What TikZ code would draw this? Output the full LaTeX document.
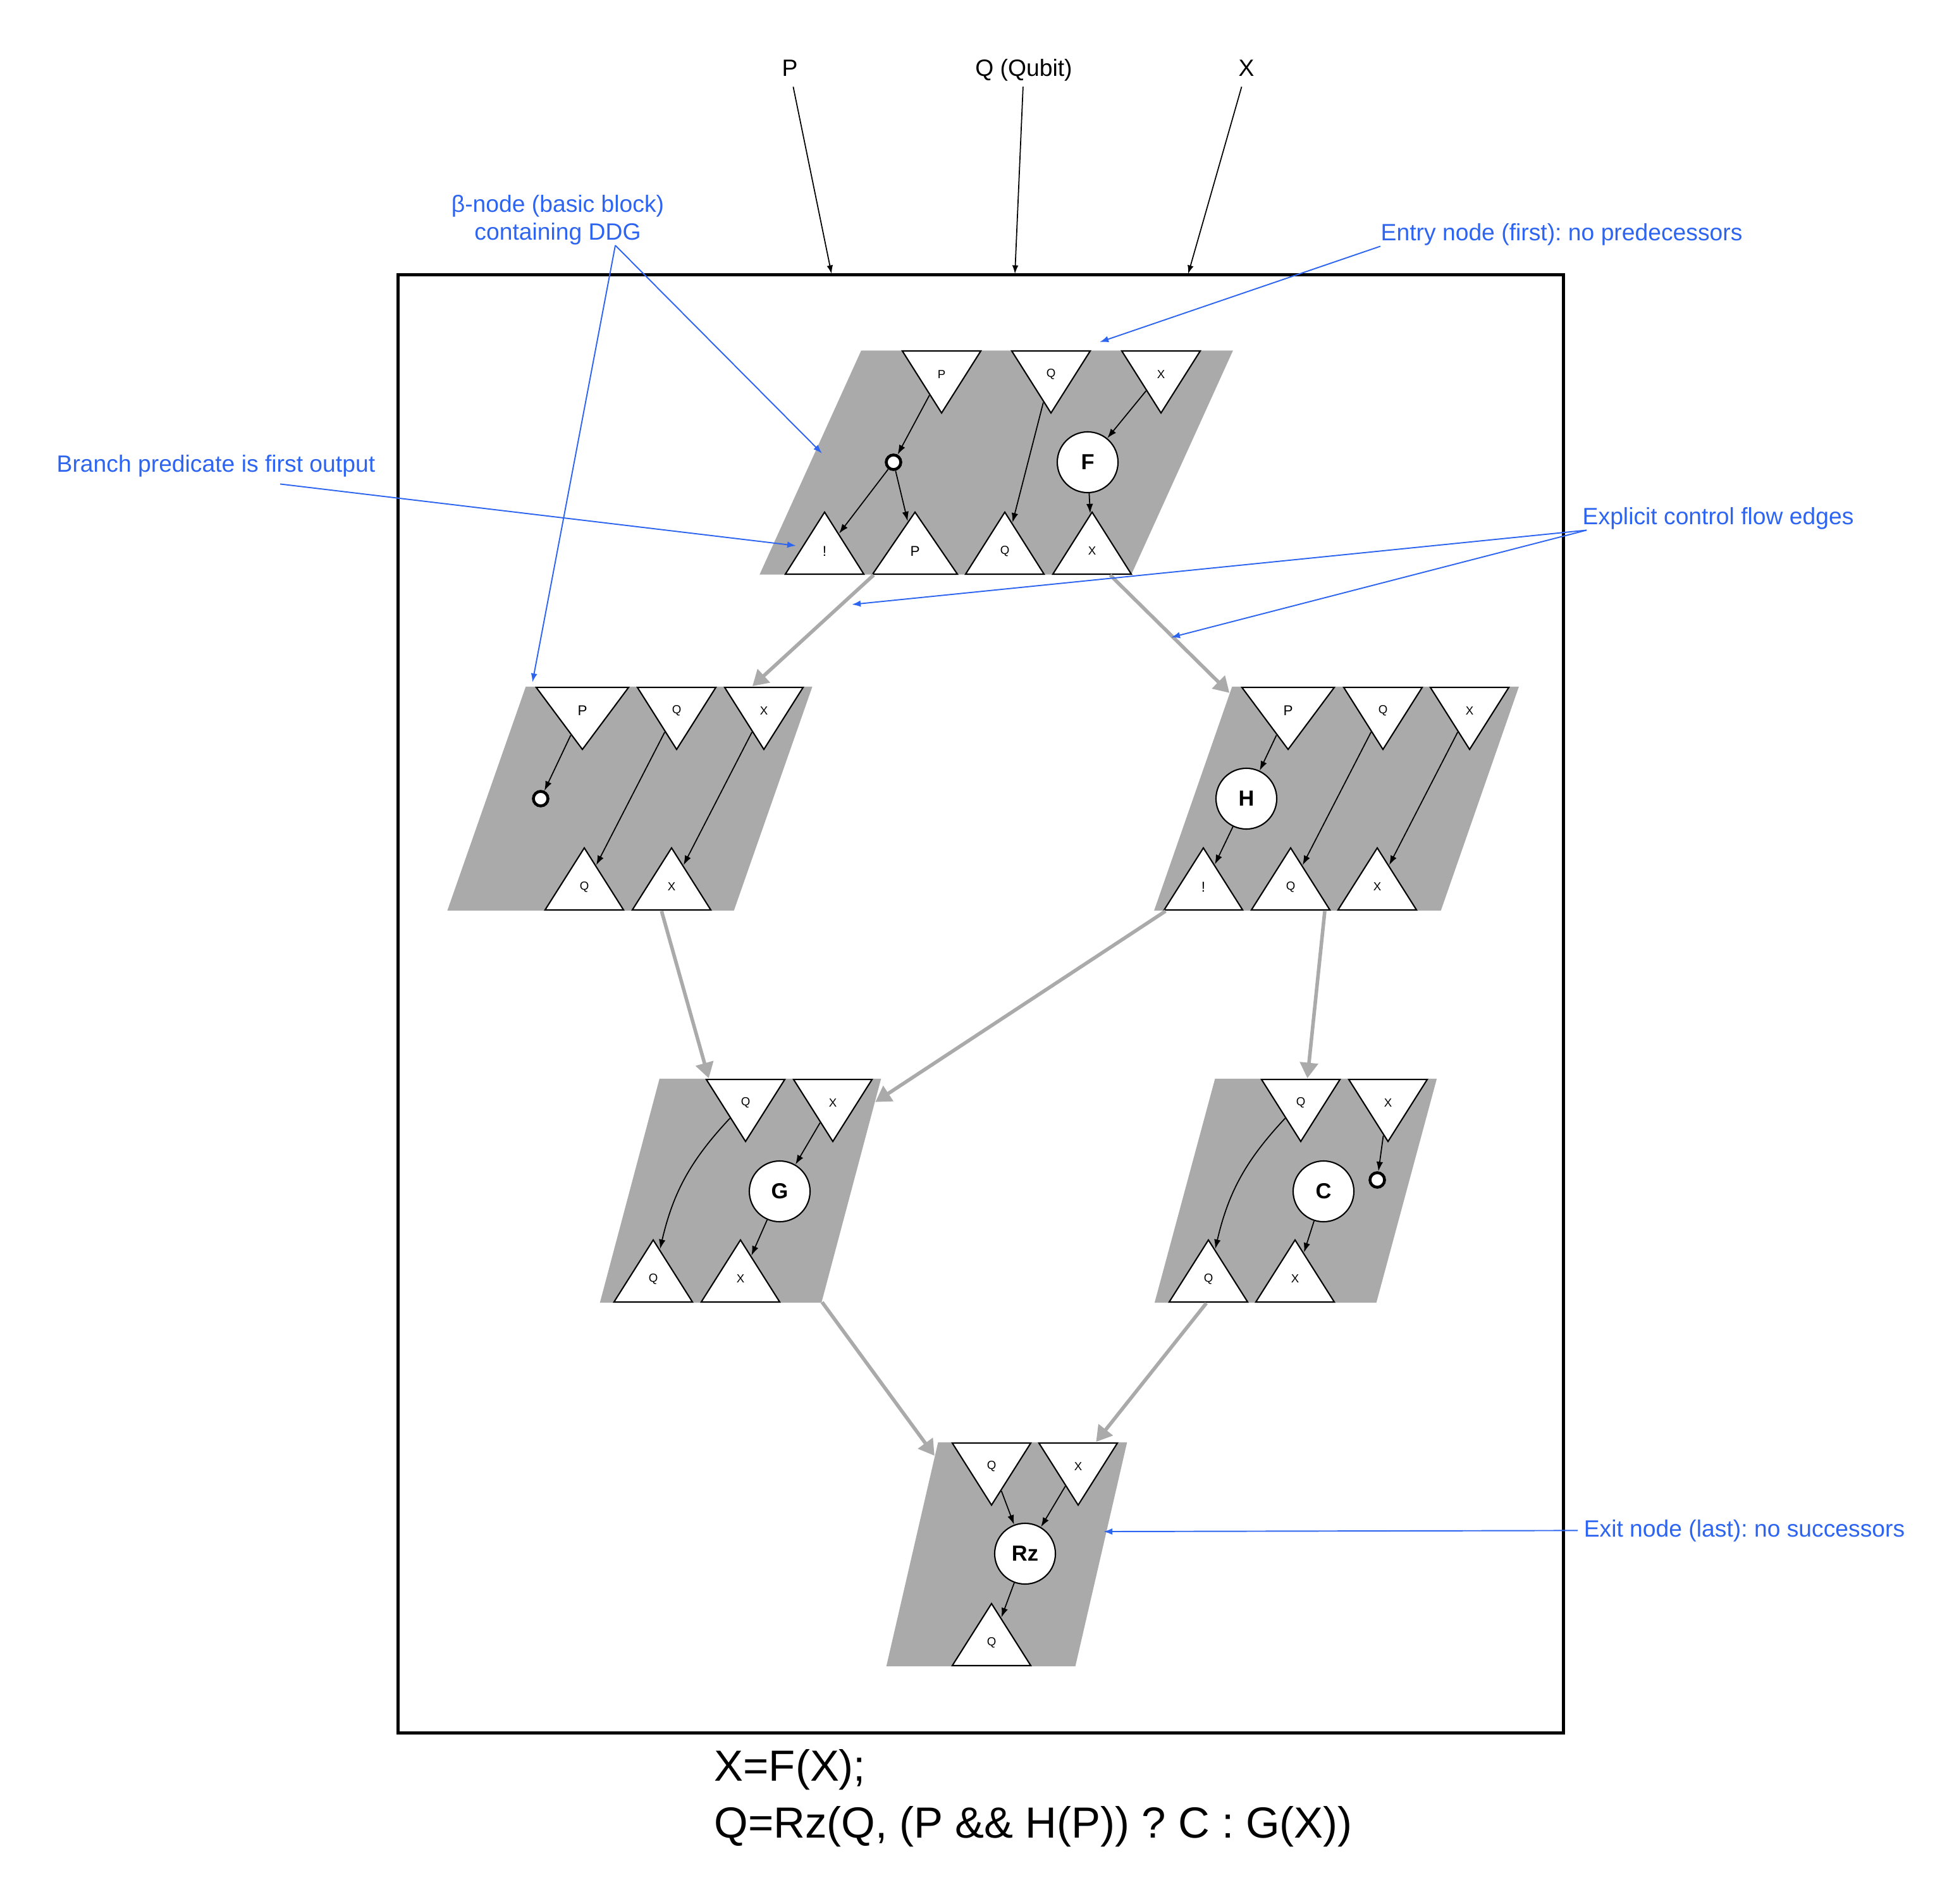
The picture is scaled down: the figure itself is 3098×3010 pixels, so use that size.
\documentclass[tikz,border=0pt]{standalone}
\usepackage{fontspec}
\setmainfont{Liberation Sans}
\frenchspacing
\usetikzlibrary{arrows.meta,calc,shapes.geometric}
\definecolor{blockgray}{HTML}{AAAAAA}
\definecolor{noteblue}{RGB}{46,101,240}
\tikzset{
blockbox/.style={trapezium, fill=blockgray, inner sep=0pt, text height=3.54cm, text depth=0pt},
intri/.style={isosceles triangle, isosceles triangle stretches, shape border rotate=270, draw, line width=0.6pt, fill=white, inner sep=0pt, minimum width=1.24cm, minimum height=0.98cm, anchor=lower side},
outtri/.style={intri, shape border rotate=90},
trilabel/.style={inner sep=0pt, font=\fontsize{5.3}{6}\selectfont},
bigtrilabel/.style={inner sep=0pt, font=\fontsize{6.4}{7.5}\selectfont},
opnode/.style={circle, draw, line width=0.6pt, fill=white, minimum size=0.96cm, inner sep=0pt, font=\fontsize{9.8}{11}\selectfont\bfseries},
dropnode/.style={circle, draw, line width=1.3pt, fill=white, minimum size=0.23cm, inner sep=0pt},
ddgarrow/.style={-{Latex[length=4.3pt,width=3pt]}, line width=0.5pt},
cfgarrow/.style={-{Triangle[length=7pt,width=8pt]}, draw=blockgray, line width=1.6pt},
inlabel/.style={inner sep=0.08cm, text height=0.27cm, text depth=0.08cm, font=\fontsize{10.6}{12.7}\selectfont},
inarrow/.style={-{Latex[length=3.8pt,width=2.8pt]}, line width=0.5pt},
notetext/.style={text=noteblue, inner sep=0pt, font=\fontsize{10.6}{12.5}\selectfont},
notearrow/.style={-{Latex[length=4pt,width=2.9pt]}, draw=noteblue, line width=0.55pt},
codetext/.style={inner sep=0pt, align=left, font=\fontsize{19.6}{25.6}\selectfont}
}
\begin{document}
\begin{tikzpicture}[x=0.01cm,y=-0.01cm]
\useasboundingbox (0,0) rectangle (3098,3010);

% function frame and its arguments
\node[draw, line width=1.4pt, inner sep=0pt, minimum width=18.42cm, minimum height=23.05cm] (func) at (1551,1587.5) {};
\node[inlabel] (lblP) at (1249,111) {P};
\node[inlabel] (lblQ) at (1619,111) {Q (Qubit)};
\node[inlabel] (lblX) at (1971,111) {X};
\coordinate (argP) at (1315,433);
\coordinate (argQ) at (1605,433);
\coordinate (argX) at (1879,433);
\draw[inarrow] (lblP) -- (argP);
\draw[inarrow] (lblQ) -- (argQ);
\draw[inarrow] (lblX) -- (argX);

% basic blocks
\node[blockbox, trapezium left angle=65.6, trapezium right angle=114.4, text width=4.27cm] (fblk) at (1575.5,731.5) {};
\node[blockbox, trapezium left angle=70.7, trapezium right angle=109.3, text width=3.29cm] (pblk) at (996,1263) {};
\node[blockbox, trapezium left angle=70.8, trapezium right angle=109.2, text width=3.30cm] (hblk) at (2113.5,1263) {};
\node[blockbox, trapezium left angle=75.1, trapezium right angle=104.9, text width=2.56cm] (gblk) at (1171,1883) {};
\node[blockbox, trapezium left angle=74.9, trapezium right angle=105.1, text width=2.55cm] (cblk) at (2049,1883) {};
\node[blockbox, trapezium left angle=77, trapezium right angle=103, text width=2.17cm] (rzblk) at (1592,2458) {};

% entry block: X=F(X)
\node[intri] (fP) at (1489,554) {}; \node[trilabel] (fPt) at ($(fP.lower side)!.37!(fP.apex)$) {P};
\node[intri] (fQ) at (1662,554) {}; \node[trilabel] (fQt) at ($(fQ.lower side)!.37!(fQ.apex)$) {Q};
\node[intri] (fX) at (1836,554) {}; \node[trilabel] (fXt) at ($(fX.lower side)!.37!(fX.apex)$) {X};
\node[outtri] (fNot) at (1304,909) {}; \node[bigtrilabel] (fNott) at ($(fNot.lower side)!.37!(fNot.apex)$) {!};
\node[outtri, minimum width=1.34cm] (fPo) at (1447,909) {}; \node[bigtrilabel] (fPot) at ($(fPo.lower side)!.37!(fPo.apex)$) {P};
\node[outtri] (fQo) at (1589,909) {}; \node[trilabel] (fQot) at ($(fQo.lower side)!.37!(fQo.apex)$) {Q};
\node[outtri] (fXo) at (1727,909) {}; \node[trilabel] (fXot) at ($(fXo.lower side)!.37!(fXo.apex)$) {X};
\node[dropnode] (fDrop) at (1413,731) {};
\node[opnode] (fOp) at (1720,731) {F};
\draw[ddgarrow] (fP) -- (fDrop);
\draw[ddgarrow] (fDrop) -- (fNot);
\draw[ddgarrow] (fDrop) -- (fPo);
\draw[ddgarrow] (fQ) -- (fQo);
\draw[ddgarrow] (fX) -- (fOp);
\draw[ddgarrow] (fOp) -- (fXo);

% P false: drop P
\node[intri, minimum width=1.46cm] (pP) at (921,1086) {}; \node[bigtrilabel] (pPt) at ($(pP.lower side)!.37!(pP.apex)$) {P};
\node[intri] (pQ) at (1070,1086) {}; \node[trilabel] (pQt) at ($(pQ.lower side)!.37!(pQ.apex)$) {Q};
\node[intri] (pX) at (1208,1086) {}; \node[trilabel] (pXt) at ($(pX.lower side)!.37!(pX.apex)$) {X};
\node[outtri] (pQo) at (924,1440) {}; \node[trilabel] (pQot) at ($(pQo.lower side)!.37!(pQo.apex)$) {Q};
\node[outtri] (pXo) at (1062,1440) {}; \node[trilabel] (pXot) at ($(pXo.lower side)!.37!(pXo.apex)$) {X};
\node[dropnode] (pDrop) at (855,1263) {};
\draw[ddgarrow] (pP) -- (pDrop);
\draw[ddgarrow] (pQ) -- (pQo);
\draw[ddgarrow] (pX) -- (pXo);

% P true: H(P)
\node[intri, minimum width=1.46cm] (hP) at (2037,1086) {}; \node[bigtrilabel] (hPt) at ($(hP.lower side)!.37!(hP.apex)$) {P};
\node[intri] (hQ) at (2187,1086) {}; \node[trilabel] (hQt) at ($(hQ.lower side)!.37!(hQ.apex)$) {Q};
\node[intri] (hX) at (2324,1086) {}; \node[trilabel] (hXt) at ($(hX.lower side)!.37!(hX.apex)$) {X};
\node[outtri] (hNot) at (1903,1440) {}; \node[bigtrilabel] (hNott) at ($(hNot.lower side)!.37!(hNot.apex)$) {!};
\node[outtri] (hQo) at (2041,1440) {}; \node[trilabel] (hQot) at ($(hQo.lower side)!.37!(hQo.apex)$) {Q};
\node[outtri] (hXo) at (2178,1440) {}; \node[trilabel] (hXot) at ($(hXo.lower side)!.37!(hXo.apex)$) {X};
\node[opnode] (hOp) at (1971,1263) {H};
\draw[ddgarrow] (hP) -- (hOp);
\draw[ddgarrow] (hOp) -- (hNot);
\draw[ddgarrow] (hQ) -- (hQo);
\draw[ddgarrow] (hX) -- (hXo);

% G(X)
\node[intri] (gQ) at (1179,1706) {}; \node[trilabel] (gQt) at ($(gQ.lower side)!.37!(gQ.apex)$) {Q};
\node[intri] (gX) at (1317,1706) {}; \node[trilabel] (gXt) at ($(gX.lower side)!.37!(gX.apex)$) {X};
\node[outtri] (gQo) at (1033,2060) {}; \node[trilabel] (gQot) at ($(gQo.lower side)!.37!(gQo.apex)$) {Q};
\node[outtri] (gXo) at (1171,2060) {}; \node[trilabel] (gXot) at ($(gXo.lower side)!.37!(gXo.apex)$) {X};
\node[opnode] (gOp) at (1233,1884) {G};
\draw[ddgarrow] (gQ) to[bend right=15] (gQo);
\draw[ddgarrow] (gX) -- (gOp);
\draw[ddgarrow] (gOp) -- (gXo);

% C, drop X
\node[intri] (cQ) at (2057,1706) {}; \node[trilabel] (cQt) at ($(cQ.lower side)!.37!(cQ.apex)$) {Q};
\node[intri] (cX) at (2195,1706) {}; \node[trilabel] (cXt) at ($(cX.lower side)!.37!(cX.apex)$) {X};
\node[outtri] (cQo) at (1911,2060) {}; \node[trilabel] (cQot) at ($(cQo.lower side)!.37!(cQo.apex)$) {Q};
\node[outtri] (cXo) at (2048,2060) {}; \node[trilabel] (cXot) at ($(cXo.lower side)!.37!(cXo.apex)$) {X};
\node[opnode] (cOp) at (2093,1884) {C};
\node[dropnode] (cDrop) at (2178,1866) {};
\draw[ddgarrow] (cQ) to[bend right=15] (cQo);
\draw[ddgarrow] (cX) -- (cDrop);
\draw[ddgarrow] (cOp) -- (cXo);

% exit block: Rz
\node[intri] (rQ) at (1568,2281) {}; \node[trilabel] (rQt) at ($(rQ.lower side)!.37!(rQ.apex)$) {Q};
\node[intri] (rX) at (1705,2281) {}; \node[trilabel] (rXt) at ($(rX.lower side)!.37!(rX.apex)$) {X};
\node[outtri] (rQo) at (1568,2635) {}; \node[trilabel] (rQot) at ($(rQo.lower side)!.37!(rQo.apex)$) {Q};
\node[opnode] (rOp) at (1621,2457) {Rz};
\draw[ddgarrow] (rQ) -- (rOp);
\draw[ddgarrow] (rX) -- (rOp);
\draw[ddgarrow] (rOp) -- (rQo);

% control flow
\draw[cfgarrow] (fblk) -- (pblk);
\draw[cfgarrow] (fblk) -- (hblk);
\draw[cfgarrow] (pblk) -- (gblk);
\draw[cfgarrow] (hblk) -- (gblk);
\draw[cfgarrow] (hblk) -- (cblk);
\draw[cfgarrow] (gblk) -- (rzblk);
\draw[cfgarrow] (cblk) -- (rzblk);

% notes
\node[notetext, align=center] (bnote) at (882,348) {β-node (basic block)\\containing DDG};
\node[notetext, anchor=base west] (entrynote) at (2183,381) {Entry node (first): no predecessors};
\node[notetext, anchor=base west] (brnote) at (89,746) {Branch predicate is first output};
\node[notetext, anchor=base west] (cfnote) at (2502,830) {Explicit control flow edges};
\node[notetext, anchor=base west] (exitnote) at (2504,2430) {Exit node (last): no successors};
\coordinate (bnoteA) at (1300,717);
\coordinate (bnoteB) at (842,1079);
\coordinate (entryTo) at (1739,541);
\coordinate (brTo) at (1259,863);
\coordinate (cfToA) at (1347,956);
\coordinate (cfToB) at (1852,1008);
\coordinate (exitTo) at (1745,2422);
\draw[notearrow] ([xshift=0.91cm]bnote.south) -- (bnoteA);
\draw[notearrow] ([xshift=0.91cm]bnote.south) -- (bnoteB);
\draw[notearrow] (entrynote.south west) -- (entryTo);
\draw[notearrow] ([shift={(354,11)}]brnote.south west) -- (brTo);
\draw[notearrow] ([xshift=0.07cm]cfnote.south west) -- (cfToA);
\draw[notearrow] ([xshift=0.07cm]cfnote.south west) -- (cfToB);
\draw[notearrow] ([xshift=-0.09cm]exitnote.west) -- (exitTo);

% source
\node[codetext, anchor=west] (src) at (1129,2844) {X=F(X);\\Q=Rz(Q, (P \&\& H(P)) ? C : G(X))};
\end{tikzpicture}
\end{document}
